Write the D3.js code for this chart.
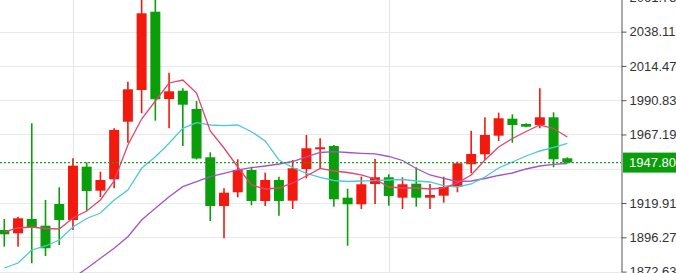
<!DOCTYPE html>
<html>
<head>
<meta charset="utf-8">
<script src="https://cdn.jsdelivr.net/npm/d3@7"></script>
<style>
  html, body { margin: 0; padding: 0; background: #fff; overflow: hidden; }
</style>
</head>
<body>
<div id="chart"></div>
<script>
// candle data, oldest first
var opens  = [1901.33, 1899.05, 1908.91, 1904.29, 1919.26, 1908.22, 1944.98, 1928.43, 1936.29, 1976.01,
              1997.87, 2051.86, 1991.66, 1997.39, 1984.77, 1951.46, 1917.88, 1927.33, 1942.70, 1921.33,
              1935.81, 1921.53, 1943.39, 1956.98, 1959.25, 1923.60, 1919.05, 1933.05, 1937.67, 1923.60,
              1933.26, 1923.60, 1924.98, 1931.19, 1946.63, 1953.53, 1966.36, 1978.08, 1974.42, 1973.73,
              1979.04, 1950.77];
var highs  = [1908.91, 1910.50, 1974.91, 1922.02, 1930.77, 1950.77, 1948.01, 1941.53, 1971.46, 2003.59,
              2065.45, 2064.50, 2009.80, 1999.04, 1990.28, 1954.91, 1930.08, 1950.08, 1944.98, 1940.84,
              1938.08, 1949.60, 1966.84, 1964.56, 1959.94, 1929.81, 1938.08, 1950.29, 1939.74, 1937.67,
              1944.56, 1933.05, 1938.08, 1948.43, 1969.80, 1979.04, 1982.22, 1981.11, 1974.91, 1999.04,
              1982.49, 1951.46];
var lows   = [1889.81, 1889.81, 1878.37, 1883.40, 1890.99, 1901.33, 1914.64, 1924.08, 1930.08, 1961.53,
              1981.80, 1976.70, 1971.46, 1959.25, 1949.94, 1907.53, 1895.61, 1923.88, 1918.36, 1917.88,
              1911.19, 1915.81, 1936.98, 1943.88, 1917.40, 1890.50, 1915.81, 1919.26, 1918.09, 1915.81,
              1917.40, 1915.81, 1920.15, 1927.33, 1940.43, 1949.60, 1962.70, 1961.53, 1972.15, 1971.46,
              1944.56, 1947.32];
var closes = [1898.36, 1909.40, 1903.19, 1888.71, 1908.22, 1945.67, 1928.22, 1935.81, 1970.29, 1998.35,
              2050.76, 1991.46, 1996.97, 1987.73, 1950.63, 1917.88, 1927.05, 1942.70, 1921.33, 1935.81,
              1921.33, 1943.88, 1957.67, 1958.36, 1922.50, 1919.05, 1932.84, 1937.67, 1924.77, 1932.84,
              1923.60, 1925.46, 1930.98, 1947.32, 1953.74, 1966.84, 1978.35, 1973.73, 1972.56, 1979.04,
              1950.08, 1947.80];

// moving averages as drawn
var maFast = [1899.95, 1902.71, 1903.40, 1902.36, 1902.02, 1909.60, 1914.43, 1922.02, 1935.12, 1959.94,
              1977.87, 1990.28, 2002.70, 2004.76, 1995.80, 1969.60, 1957.87, 1944.77, 1932.36, 1929.60,
              1930.29, 1933.74, 1938.57, 1943.74, 1942.01, 1940.98, 1939.26, 1936.50, 1930.98, 1930.29,
              1930.29, 1929.60, 1930.29, 1933.74, 1939.26, 1949.60, 1958.56, 1964.42, 1969.25, 1973.73,
              1971.32, 1965.46];
var maMid  = [1875.12, 1878.57, 1887.54, 1890.30, 1894.43, 1903.40, 1909.26, 1913.05, 1922.02, 1928.91,
              1943.88, 1951.87, 1961.11, 1971.46, 1975.32, 1973.73, 1973.25, 1973.73, 1969.11, 1962.70,
              1949.60, 1944.43, 1940.43, 1937.53, 1935.46, 1934.77, 1935.12, 1935.32, 1935.81, 1936.15,
              1935.12, 1934.43, 1931.88, 1930.98, 1933.05, 1937.88, 1944.08, 1948.22, 1952.36, 1955.80,
              1958.22, 1960.98];
var maSlow = [null, null, null, null, null, 1868.23, 1874.78, 1881.81, 1888.71, 1896.71,
              1908.22, 1916.29, 1924.29, 1931.19, 1934.63, 1938.08, 1940.43, 1942.84, 1944.29, 1945.46,
              1946.84, 1948.56, 1951.67, 1954.77, 1955.32, 1954.77, 1954.22, 1953.87, 1952.01, 1949.25,
              1943.74, 1939.26, 1936.98, 1934.77, 1935.12, 1936.84, 1938.91, 1940.63, 1943.39, 1945.46,
              1946.63, 1947.19];

var yTicks = [1872.63, 1896.27, 1919.91, 1943.55, 1967.19, 1990.83, 2014.47, 2038.11, 2061.75];
var gridCandles = [5, 28];
var lastPrice = 1947.80;

var w = 676, h = 273, axisX = 621;
var upColor = "#f2190e", downColor = "#0b9e0b";

var candles = opens.map(function(o, i) {
  return { i: i, open: o, high: highs[i], low: lows[i], close: closes[i] };
});

var x = d3.scaleLinear().domain([0, candles.length - 1]).range([4.3, 567.3]);
var y = d3.scaleLinear().domain([1872.63, 2061.75]).range([271.6, -2.64]);

var svg = d3.select("#chart")
  .append("svg")
  .attr("width", w)
  .attr("height", h)
  .style("display", "block");

svg.append("defs").append("clipPath").attr("id", "plot")
  .append("rect").attr("x", 0).attr("y", 0).attr("width", axisX).attr("height", h);

// grid
svg.append("g").selectAll("line.h")
  .data(yTicks)
  .enter().append("line")
  .attr("x1", 0).attr("x2", axisX)
  .attr("y1", function(d){ return Math.round(y(d)) + 0.5; })
  .attr("y2", function(d){ return Math.round(y(d)) + 0.5; })
  .attr("stroke", "#e6e9ee");

svg.append("g").selectAll("line.v")
  .data(gridCandles)
  .enter().append("line")
  .attr("x1", function(d){ return Math.round(x(d)) + 0.5; })
  .attr("x2", function(d){ return Math.round(x(d)) + 0.5; })
  .attr("y1", 0).attr("y2", h)
  .attr("stroke", "#e2e6ec");

var plot = svg.append("g").attr("clip-path", "url(#plot)");

// candles
var g = plot.selectAll("g.candle")
  .data(candles)
  .enter().append("g");

g.append("line")
  .attr("x1", function(d){ return x(d.i); })
  .attr("x2", function(d){ return x(d.i); })
  .attr("y1", function(d){ return y(d.high); })
  .attr("y2", function(d){ return y(d.low); })
  .attr("stroke", function(d){ return d.close >= d.open ? upColor : downColor; })
  .attr("stroke-width", 1.6);

g.append("rect")
  .attr("x", function(d){ return x(d.i) - 5; })
  .attr("width", 10)
  .attr("y", function(d){ return y(Math.max(d.open, d.close)); })
  .attr("height", function(d){ return Math.max(1.5, Math.abs(y(d.open) - y(d.close))); })
  .attr("fill", function(d){ return d.close >= d.open ? upColor : downColor; });

// moving averages
var line = d3.line()
  .defined(function(d){ return d != null; })
  .x(function(d, i){ return x(i); })
  .y(function(d){ return y(d); });

[[maSlow, "#a651c9"], [maMid, "#4ec8d6"], [maFast, "#e2456f"]].forEach(function(s) {
  plot.append("path")
    .datum(s[0])
    .attr("d", line)
    .attr("fill", "none")
    .attr("stroke", s[1])
    .attr("stroke-width", 1.3);
});

// last price line
svg.append("line")
  .attr("x1", 0).attr("x2", axisX)
  .attr("y1", y(lastPrice)).attr("y2", y(lastPrice))
  .attr("stroke", "#1e9e1e")
  .attr("stroke-width", 1.2)
  .attr("stroke-dasharray", "2,2");

// price axis
var axis = d3.axisRight(y)
  .tickValues(yTicks.filter(function(v){ return Math.abs(y(v) - y(lastPrice)) > 12; }))
  .tickFormat(d3.format(".2f"))
  .tickSize(5)
  .tickSizeOuter(0)
  .tickPadding(3);

var ax = svg.append("g")
  .attr("transform", "translate(" + (axisX + 0.5) + ",0)")
  .call(axis);
ax.select(".domain").attr("stroke", "#555");
ax.selectAll(".tick line").attr("stroke", "#555");
ax.selectAll(".tick text")
  .attr("fill", "#333")
  .style("font-family", "'Liberation Sans', Arial, sans-serif")
  .style("font-size", "13px");

svg.append("rect")
  .attr("x", axisX + 2).attr("y", y(lastPrice) - 10)
  .attr("width", w - axisX).attr("height", 20)
  .attr("fill", "#0a9e0a");

svg.append("text")
  .attr("x", axisX + 8).attr("y", y(lastPrice))
  .attr("dy", "0.35em")
  .attr("fill", "#fff")
  .style("font-family", "'Liberation Sans', Arial, sans-serif")
  .style("font-size", "13px")
  .text(d3.format(".2f")(lastPrice));
</script>
</body>
</html>
